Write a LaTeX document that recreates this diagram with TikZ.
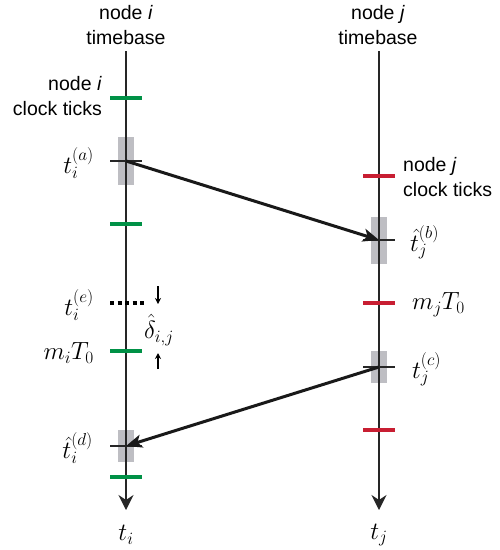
\documentclass[tikz,border=0pt]{standalone}
\usepackage{fontspec}
\setmainfont{Liberation Sans}
\usetikzlibrary{arrows.meta}
\definecolor{tickgreen}{RGB}{0,145,70}
\definecolor{tickred}{RGB}{200,30,50}
\definecolor{boxgray}{RGB}{190,190,195}
\tikzset{
  axisline/.style={line width=1.8pt, draw=black!85, -{Stealth[length=15pt,width=15pt,inset=5pt]}},
  greentick/.style={line width=4.5pt, draw=tickgreen},
  redtick/.style={line width=4.5pt, draw=tickred},
  graybox/.style={fill=boxgray, draw=none, minimum width=16pt, inner sep=0pt},
  blacktick/.style={line width=1.8pt, draw=black!85},
  msg/.style={line width=3pt, draw=black!90, -{Stealth[length=16pt,width=13pt,inset=4pt]}},
  txt/.style={font=\fontsize{19.5}{25}\selectfont, inner sep=0pt},
  mth/.style={font=\fontsize{27}{30}\selectfont, inner sep=0pt},
  small/.style={line width=1.3pt, -{Stealth[length=6pt,width=6pt]}}
}
\begin{document}
\begin{tikzpicture}[x=1pt,y=-1pt]
\useasboundingbox (0,0) rectangle (500,550);
% gray boxes
\node[graybox, minimum height=48pt] (a) at (126,161) {};
\node[graybox, minimum height=47pt] (b) at (379,240) {};
\node[graybox, minimum height=32pt] (c) at (379,367) {};
\node[graybox, minimum height=32pt] (d) at (126,446) {};
% axes
\coordinate (itop) at (126,51);
\coordinate (ibot) at (126,510);
\coordinate (jtop) at (379,51);
\coordinate (jbot) at (379,510);
\draw[axisline] (itop) -- (ibot);
\draw[axisline] (jtop) -- (jbot);
% clock ticks
\foreach \y in {98,224,351,477} \draw[greentick] (110,\y) -- (142,\y);
\foreach \y in {176,303,430} \draw[redtick] (363,\y) -- (395,\y);
% event ticks
\draw[blacktick] (110,161) -- (142,161);
\draw[blacktick] (363,240) -- (395,240);
\draw[blacktick] (363,367) -- (395,367);
\draw[blacktick] (110,446) -- (142,446);
% dotted (e)
\coordinate (e1) at (110,303);
\coordinate (e2) at (144,303);
\draw[line width=4pt, dash pattern=on 4pt off 3.5pt] (e1) -- (e2);
% messages
\draw[msg] (a.center) -- (b.center);
\draw[msg] (c.center) -- (d.center);
% delta arrows
\coordinate (dd1) at (158,286);
\coordinate (dd2) at (158,304);
\coordinate (du1) at (158,369);
\coordinate (du2) at (158,353);
\draw[small] (dd1) -- (dd2);
\draw[small] (du1) -- (du2);
\node[mth] (delta) at (159,330) {$\hat\delta_{i,j}$};
% labels
\node[txt, align=center] (ihead) at (126,25) {node \textit{i}\\timebase};
\node[txt, align=center] (jhead) at (378,25) {node \textit{j}\\timebase};
\node[txt, align=right, anchor=east] (iclk) at (102,96) {node \textit{i}\\clock ticks};
\node[txt, align=left, anchor=west] (jclk) at (403,177) {node \textit{j}\\clock ticks};
\node[mth, anchor=east] (la) at (94,163) {$t_i^{(a)}$};
\node[mth, anchor=west] (lb) at (410,242) {$\hat t_j^{(b)}$};
\node[mth, anchor=east] (le) at (94,305) {$t_i^{(e)}$};
\node[mth, anchor=east] (lm) at (94,353) {$m_iT_0$};
\node[mth, anchor=west] (lmj) at (412,305) {$m_jT_0$};
\node[mth, anchor=west] (lc) at (412,369) {$t_j^{(c)}$};
\node[mth, anchor=east] (ld) at (93,448) {$\hat t_i^{(d)}$};
\node[mth] (ti) at (126,535) {$t_i$};
\node[mth] (tj) at (379,535) {$t_j$};
\end{tikzpicture}
\end{document}
